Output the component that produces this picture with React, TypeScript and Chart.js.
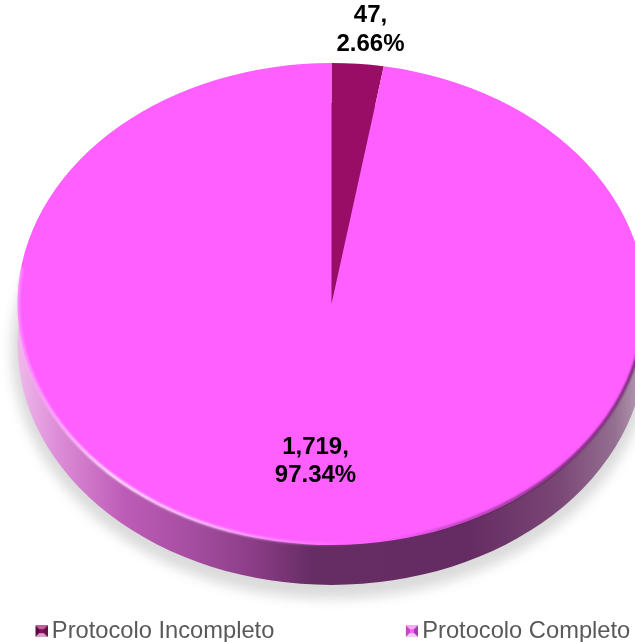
import React, { useEffect, useRef } from "react";
import { Chart, registerables } from "chart.js";

Chart.register(...registerables);

const categories = ["Protocolo Incompleto", "Protocolo Completo"];
const counts = [47, 1719];
const percents = ["2.66%", "97.34%"];
const countLabels = ["47,", "1,719,"];
const sliceColors = ["#990D66", "#FF5FFF"];

const CANVAS_W = 1000;
const CANVAS_H = 653;
const LEGEND_PAD = 135;
const OFFSET_X = 96.5;
const FACE_CX = 331 + OFFSET_X;
const FACE_CY = 304;
const FACE_RX = 314;
const FACE_RY = 241;
const DEPTH = 40;

function bevelIcon(top: string, left: string, right: string, bottom: string, mid: string) {
  const c = document.createElement("canvas");
  c.width = 16;
  c.height = 12;
  const g = c.getContext("2d")!;
  g.translate(4, 0);
  const tri = (col: string, pts: number[]) => {
    g.fillStyle = col;
    g.beginPath();
    g.moveTo(pts[0], pts[1]);
    g.lineTo(pts[2], pts[3]);
    g.lineTo(6, 6);
    g.closePath();
    g.fill();
  };
  tri(top, [0, 0, 12, 0]);
  tri(left, [0, 0, 0, 12]);
  tri(right, [12, 0, 12, 12]);
  tri(bottom, [0, 12, 12, 12]);
  g.fillStyle = mid;
  g.fillRect(4, 4, 4, 4);
  return c;
}

const pie3d = {
  id: "pie3d",
  beforeDatasetsDraw(chart: any) {
    const { ctx } = chart;
    ctx.save();
    // soft shadow under the pie
    ctx.save();
    ctx.filter = "blur(6px)";
    ctx.fillStyle = "rgba(0,0,0,0.14)";
    ctx.beginPath();
    ctx.ellipse(FACE_CX, FACE_CY + DEPTH + 6, FACE_RX + 6, FACE_RY + 8, 0, 0, Math.PI * 2);
    ctx.fill();
    ctx.restore();

    // side wall
    const g = ctx.createLinearGradient(FACE_CX - FACE_RX, 0, FACE_CX + FACE_RX, 0);
    g.addColorStop(0, "#F0B8EC");
    g.addColorStop(0.06, "#DE8FD8");
    g.addColorStop(0.17, "#BD5CB7");
    g.addColorStop(0.3, "#A04A9C");
    g.addColorStop(0.38, "#8A3C85");
    g.addColorStop(0.47, "#662C64");
    g.addColorStop(0.72, "#652C63");
    g.addColorStop(0.86, "#7A4675");
    g.addColorStop(0.95, "#946E91");
    g.addColorStop(1, "#B9A2B7");
    ctx.fillStyle = g;
    ctx.beginPath();
    ctx.ellipse(FACE_CX, FACE_CY + DEPTH, FACE_RX, FACE_RY, 0, 0, Math.PI * 2);
    ctx.fill();

    // squash the library's circular pie into the tilted top face
    const arc = chart.getDatasetMeta(0).data[0];
    ctx.translate(FACE_CX, FACE_CY);
    ctx.scale(FACE_RX / arc.outerRadius, FACE_RY / arc.outerRadius);
    ctx.translate(-arc.x, -arc.y);
  },
  afterDatasetsDraw(chart: any) {
    const { ctx } = chart;
    ctx.restore();

    // rim of the top face
    const g = ctx.createLinearGradient(FACE_CX - FACE_RX, 0, FACE_CX + FACE_RX, 0);
    g.addColorStop(0, "rgba(255,200,255,0.5)");
    g.addColorStop(0.15, "rgba(255,255,255,0.95)");
    g.addColorStop(0.32, "rgba(255,225,255,0.8)");
    g.addColorStop(0.48, "rgba(255,150,255,0.5)");
    g.addColorStop(0.54, "rgba(255,95,255,0)");
    g.addColorStop(0.68, "rgba(70,20,70,0.35)");
    g.addColorStop(0.88, "rgba(70,20,70,0.8)");
    g.addColorStop(1, "rgba(70,20,70,0.9)");
    ctx.save();
    ctx.filter = "blur(1px)";
    ctx.strokeStyle = g;
    ctx.lineWidth = 2.5;
    ctx.beginPath();
    ctx.ellipse(FACE_CX, FACE_CY, FACE_RX - 1, FACE_RY - 1, 0, -0.2, Math.PI + 0.15);
    ctx.stroke();
    ctx.restore();

    // data labels
    ctx.save();
    ctx.fillStyle = "#000000";
    ctx.font = "bold 24px 'Liberation Sans', Arial, sans-serif";
    ctx.textAlign = "center";
    ctx.textBaseline = "middle";
    const anchors = [
      [370 + OFFSET_X, 15, 44],
      [315 + OFFSET_X, 447, 475],
    ];
    anchors.forEach((a, i) => {
      ctx.fillText(countLabels[i], a[0], a[1]);
      ctx.fillText(percents[i], a[0], a[2]);
    });
    ctx.restore();
  },
};

export default function App() {
  const ref = useRef<HTMLCanvasElement>(null);
  useEffect(() => {
    document.body.style.margin = "0";
    const icons = [
      bevelIcon("#C060A0", "#5A0A40", "#6A1048", "#D8A0C8", "#8A0C5C"),
      bevelIcon("#FFA8FF", "#C048C0", "#A040A0", "#F8C8F8", "#FF5FFF"),
    ];
    const chart = new Chart(ref.current!, {
      type: "pie",
      data: {
        labels: categories,
        datasets: [
          {
            data: counts,
            backgroundColor: sliceColors,
            borderWidth: 0,
            radius: 314,
            clip: false,
          } as any,
        ],
      },
      options: {
        responsive: false,
        animation: false,
        layout: { padding: 0 },
        plugins: {
          tooltip: { enabled: false },
          title: { display: false },
          legend: {
            display: true,
            position: "bottom",
            align: "start",
            labels: {
              usePointStyle: true,
              pointStyleWidth: 1,
              boxHeight: 12,
              padding: LEGEND_PAD,
              color: "#595959",
              font: { size: 23.7, family: "'Liberation Sans', Arial, sans-serif" },
              generateLabels: (c: any) =>
                c.data.labels.map((text: string, i: number) => ({
                  text,
                  fillStyle: sliceColors[i],
                  strokeStyle: sliceColors[i],
                  fontColor: "#595959",
                  lineWidth: 0,
                  pointStyle: icons[i],
                  hidden: false,
                  index: i,
                })),
            },
          },
        },
      },
      plugins: [pie3d],
    } as any);
    return () => chart.destroy();
  }, []);
  return (
    <div
      style={{
        position: "absolute",
        left: 0,
        top: 0,
        width: 635,
        height: 642,
        overflow: "hidden",
        background: "#fff",
      }}
    >
      <canvas
        ref={ref}
        width={CANVAS_W}
        height={CANVAS_H}
        style={{ display: "block", marginLeft: -OFFSET_X }}
      />
    </div>
  );
}
